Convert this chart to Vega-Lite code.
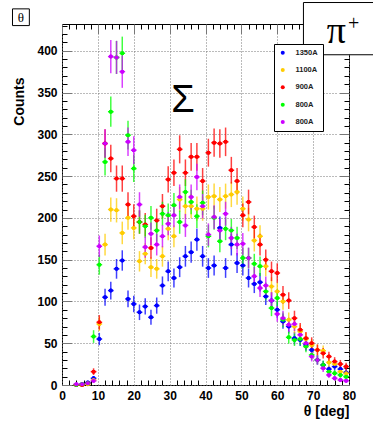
{
"$schema": "https://vega.github.io/schema/vega-lite/v6.json",
"width": 287, "height": 361,
"autosize": {"type": "none"},
"padding": {"left": 62, "top": 24, "right": 24, "bottom": 36},
"background": "white",
"config": {
 "view": {"stroke": "black", "strokeWidth": 1},
 "font": "Liberation Sans",
 "axis": {"domain": false, "tickColor": "black", "tickWidth": 1, "labelFont": "Liberation Sans", "labelFontWeight": "bold", "labelFontSize": 12, "labelColor": "black", "grid": false, "labelOverlap": false, "labelFlush": false, "labelBound": false}
},
"datasets": {"h": [
{"s":"a","x":4,"y":0,"e":0},{"s":"a","x":5.6,"y":1,"e":1},{"s":"a","x":7.2,"y":3,"e":1.7},{"s":"a","x":8.8,"y":8,"e":2.8},{"s":"a","x":10.4,"y":55,"e":7.4},{"s":"a","x":12,"y":105,"e":10.2},{"s":"a","x":13.6,"y":113,"e":10.6},{"s":"a","x":15.2,"y":139,"e":11.8},{"s":"a","x":16.8,"y":149,"e":12.2},{"s":"a","x":18.4,"y":103,"e":10.1},{"s":"a","x":20,"y":97,"e":9.8},{"s":"a","x":21.6,"y":87,"e":9.3},{"s":"a","x":23.2,"y":94,"e":9.7},{"s":"a","x":24.8,"y":81,"e":9},{"s":"a","x":26.4,"y":95,"e":9.7},{"s":"a","x":28,"y":119,"e":10.9},{"s":"a","x":29.6,"y":136,"e":11.7},{"s":"a","x":31.2,"y":128,"e":11.3},{"s":"a","x":32.8,"y":141,"e":11.9},{"s":"a","x":34.4,"y":154,"e":12.4},{"s":"a","x":36,"y":159,"e":12.6},{"s":"a","x":37.6,"y":174,"e":13.2},{"s":"a","x":39.2,"y":154,"e":12.4},{"s":"a","x":40.8,"y":140,"e":11.8},{"s":"a","x":42.4,"y":143,"e":12},{"s":"a","x":44,"y":188,"e":13.7},{"s":"a","x":45.6,"y":140,"e":11.8},{"s":"a","x":47.2,"y":168,"e":13},{"s":"a","x":48.8,"y":146,"e":12.1},{"s":"a","x":50.4,"y":143,"e":12},{"s":"a","x":52,"y":128,"e":11.3},{"s":"a","x":53.6,"y":121,"e":11},{"s":"a","x":55.2,"y":123,"e":11.1},{"s":"a","x":56.8,"y":106,"e":10.3},{"s":"a","x":58.4,"y":101,"e":10},{"s":"a","x":60,"y":90,"e":9.5},{"s":"a","x":61.6,"y":76,"e":8.7},{"s":"a","x":63.2,"y":70,"e":8.4},{"s":"a","x":64.8,"y":56,"e":7.5},{"s":"a","x":66.4,"y":54,"e":7.3},{"s":"a","x":68,"y":48,"e":6.9},{"s":"a","x":69.6,"y":42,"e":6.5},{"s":"a","x":71.2,"y":30,"e":5.5},{"s":"a","x":72.8,"y":24,"e":4.9},{"s":"a","x":74.4,"y":19,"e":4.4},{"s":"a","x":76,"y":22,"e":4.7},{"s":"a","x":77.6,"y":19,"e":4.4},{"s":"a","x":79.2,"y":15,"e":3.9},
{"s":"b","x":4,"y":0,"e":0},{"s":"b","x":5.6,"y":0,"e":0},{"s":"b","x":7.2,"y":1,"e":1},{"s":"b","x":8.8,"y":6,"e":2.4},{"s":"b","x":10.4,"y":73,"e":8.5},{"s":"b","x":12,"y":168,"e":13},{"s":"b","x":13.6,"y":210,"e":14.5},{"s":"b","x":15.2,"y":209,"e":14.5},{"s":"b","x":16.8,"y":182,"e":13.5},{"s":"b","x":18.4,"y":200,"e":14.1},{"s":"b","x":20,"y":188,"e":13.7},{"s":"b","x":21.6,"y":148,"e":12.2},{"s":"b","x":23.2,"y":157,"e":12.5},{"s":"b","x":24.8,"y":141,"e":11.9},{"s":"b","x":26.4,"y":139,"e":11.8},{"s":"b","x":28,"y":154,"e":12.4},{"s":"b","x":29.6,"y":187,"e":13.7},{"s":"b","x":31.2,"y":178,"e":13.3},{"s":"b","x":32.8,"y":222,"e":14.9},{"s":"b","x":34.4,"y":214,"e":14.6},{"s":"b","x":36,"y":214,"e":14.6},{"s":"b","x":37.6,"y":211,"e":14.5},{"s":"b","x":39.2,"y":211,"e":14.5},{"s":"b","x":40.8,"y":225,"e":15},{"s":"b","x":42.4,"y":226,"e":15},{"s":"b","x":44,"y":222,"e":14.9},{"s":"b","x":45.6,"y":226,"e":15},{"s":"b","x":47.2,"y":228,"e":15.1},{"s":"b","x":48.8,"y":231,"e":15.2},{"s":"b","x":50.4,"y":211,"e":14.5},{"s":"b","x":52,"y":198,"e":14.1},{"s":"b","x":53.6,"y":173,"e":13.2},{"s":"b","x":55.2,"y":178,"e":13.3},{"s":"b","x":56.8,"y":142,"e":11.9},{"s":"b","x":58.4,"y":118,"e":10.9},{"s":"b","x":60,"y":112,"e":10.6},{"s":"b","x":61.6,"y":100,"e":10},{"s":"b","x":63.2,"y":78,"e":8.8},{"s":"b","x":64.8,"y":70,"e":8.4},{"s":"b","x":66.4,"y":64,"e":8},{"s":"b","x":68,"y":55,"e":7.4},{"s":"b","x":69.6,"y":48,"e":6.9},{"s":"b","x":71.2,"y":42,"e":6.5},{"s":"b","x":72.8,"y":41,"e":6.4},{"s":"b","x":74.4,"y":27,"e":5.2},{"s":"b","x":76,"y":25,"e":5},{"s":"b","x":77.6,"y":16,"e":4},{"s":"b","x":79.2,"y":14,"e":3.7},
{"s":"c","x":4,"y":0,"e":0},{"s":"c","x":5.6,"y":0,"e":0},{"s":"c","x":7.2,"y":2,"e":1.4},{"s":"c","x":8.8,"y":16,"e":4},{"s":"c","x":10.4,"y":75,"e":8.7},{"s":"c","x":12,"y":289,"e":17},{"s":"c","x":13.6,"y":271,"e":16.5},{"s":"c","x":15.2,"y":247,"e":15.7},{"s":"c","x":16.8,"y":247,"e":15.7},{"s":"c","x":18.4,"y":216,"e":14.7},{"s":"c","x":20,"y":202,"e":14.2},{"s":"c","x":21.6,"y":195,"e":14},{"s":"c","x":23.2,"y":192,"e":13.9},{"s":"c","x":24.8,"y":164,"e":12.8},{"s":"c","x":26.4,"y":197,"e":14},{"s":"c","x":28,"y":214,"e":14.6},{"s":"c","x":29.6,"y":246,"e":15.7},{"s":"c","x":31.2,"y":254,"e":15.9},{"s":"c","x":32.8,"y":282,"e":16.8},{"s":"c","x":34.4,"y":254,"e":15.9},{"s":"c","x":36,"y":273,"e":16.5},{"s":"c","x":37.6,"y":273,"e":16.5},{"s":"c","x":39.2,"y":244,"e":15.6},{"s":"c","x":40.8,"y":278,"e":16.7},{"s":"c","x":42.4,"y":290,"e":17},{"s":"c","x":44,"y":289,"e":17},{"s":"c","x":45.6,"y":291,"e":17.1},{"s":"c","x":47.2,"y":257,"e":16},{"s":"c","x":48.8,"y":244,"e":15.6},{"s":"c","x":50.4,"y":203,"e":14.2},{"s":"c","x":52,"y":219,"e":14.8},{"s":"c","x":53.6,"y":189,"e":13.7},{"s":"c","x":55.2,"y":168,"e":13},{"s":"c","x":56.8,"y":150,"e":12.2},{"s":"c","x":58.4,"y":136,"e":11.7},{"s":"c","x":60,"y":134,"e":11.6},{"s":"c","x":61.6,"y":108,"e":10.4},{"s":"c","x":63.2,"y":101,"e":10},{"s":"c","x":64.8,"y":80,"e":8.9},{"s":"c","x":66.4,"y":66,"e":8.1},{"s":"c","x":68,"y":56,"e":7.5},{"s":"c","x":69.6,"y":50,"e":7.1},{"s":"c","x":71.2,"y":42,"e":6.5},{"s":"c","x":72.8,"y":38,"e":6.2},{"s":"c","x":74.4,"y":34,"e":5.8},{"s":"c","x":76,"y":28,"e":5.3},{"s":"c","x":77.6,"y":25,"e":5},{"s":"c","x":79.2,"y":22,"e":4.7},
{"s":"d","x":4,"y":0,"e":0},{"s":"d","x":5.6,"y":1,"e":1},{"s":"d","x":7.2,"y":2,"e":1.4},{"s":"d","x":8.8,"y":58,"e":7.6},{"s":"d","x":10.4,"y":144,"e":12},{"s":"d","x":12,"y":267,"e":16.3},{"s":"d","x":13.6,"y":327,"e":18.1},{"s":"d","x":15.2,"y":392,"e":19.8},{"s":"d","x":16.8,"y":397,"e":19.9},{"s":"d","x":18.4,"y":299,"e":17.3},{"s":"d","x":20,"y":259,"e":16.1},{"s":"d","x":21.6,"y":195,"e":14},{"s":"d","x":23.2,"y":190,"e":13.8},{"s":"d","x":24.8,"y":200,"e":14.1},{"s":"d","x":26.4,"y":185,"e":13.6},{"s":"d","x":28,"y":205,"e":14.3},{"s":"d","x":29.6,"y":203,"e":14.2},{"s":"d","x":31.2,"y":215,"e":14.7},{"s":"d","x":32.8,"y":195,"e":14},{"s":"d","x":34.4,"y":231,"e":15.2},{"s":"d","x":36,"y":219,"e":14.8},{"s":"d","x":37.6,"y":202,"e":14.2},{"s":"d","x":39.2,"y":218,"e":14.8},{"s":"d","x":40.8,"y":178,"e":13.3},{"s":"d","x":42.4,"y":200,"e":14.1},{"s":"d","x":44,"y":172,"e":13.1},{"s":"d","x":45.6,"y":187,"e":13.7},{"s":"d","x":47.2,"y":185,"e":13.6},{"s":"d","x":48.8,"y":176,"e":13.3},{"s":"d","x":50.4,"y":152,"e":12.3},{"s":"d","x":52,"y":152,"e":12.3},{"s":"d","x":53.6,"y":145,"e":12},{"s":"d","x":55.2,"y":142,"e":11.9},{"s":"d","x":56.8,"y":112,"e":10.6},{"s":"d","x":58.4,"y":92,"e":9.6},{"s":"d","x":60,"y":104,"e":10.2},{"s":"d","x":61.6,"y":78,"e":8.8},{"s":"d","x":63.2,"y":57,"e":7.5},{"s":"d","x":64.8,"y":54,"e":7.3},{"s":"d","x":66.4,"y":55,"e":7.4},{"s":"d","x":68,"y":46,"e":6.8},{"s":"d","x":69.6,"y":36,"e":6},{"s":"d","x":71.2,"y":30,"e":5.5},{"s":"d","x":72.8,"y":24,"e":4.9},{"s":"d","x":74.4,"y":16,"e":4},{"s":"d","x":76,"y":14,"e":3.7},{"s":"d","x":77.6,"y":12,"e":3.5},{"s":"d","x":79.2,"y":10,"e":3.2},
{"s":"e","x":4,"y":1,"e":1},{"s":"e","x":5.6,"y":1,"e":1},{"s":"e","x":7.2,"y":2,"e":1.4},{"s":"e","x":8.8,"y":5,"e":2.2},{"s":"e","x":10.4,"y":166,"e":12.9},{"s":"e","x":12,"y":289,"e":17},{"s":"e","x":13.6,"y":393,"e":19.8},{"s":"e","x":15.2,"y":392,"e":19.8},{"s":"e","x":16.8,"y":375,"e":19.4},{"s":"e","x":18.4,"y":291,"e":17.1},{"s":"e","x":20,"y":281,"e":16.8},{"s":"e","x":21.6,"y":216,"e":14.7},{"s":"e","x":23.2,"y":165,"e":12.8},{"s":"e","x":24.8,"y":181,"e":13.5},{"s":"e","x":26.4,"y":168,"e":13},{"s":"e","x":28,"y":178,"e":13.3},{"s":"e","x":29.6,"y":193,"e":13.9},{"s":"e","x":31.2,"y":203,"e":14.2},{"s":"e","x":32.8,"y":225,"e":15},{"s":"e","x":34.4,"y":191,"e":13.8},{"s":"e","x":36,"y":225,"e":15},{"s":"e","x":37.6,"y":249,"e":15.8},{"s":"e","x":39.2,"y":214,"e":14.6},{"s":"e","x":40.8,"y":180,"e":13.4},{"s":"e","x":42.4,"y":201,"e":14.2},{"s":"e","x":44,"y":185,"e":13.6},{"s":"e","x":45.6,"y":205,"e":14.3},{"s":"e","x":47.2,"y":176,"e":13.3},{"s":"e","x":48.8,"y":168,"e":13},{"s":"e","x":50.4,"y":169,"e":13},{"s":"e","x":52,"y":152,"e":12.3},{"s":"e","x":53.6,"y":130,"e":11.4},{"s":"e","x":55.2,"y":116,"e":10.8},{"s":"e","x":56.8,"y":119,"e":10.9},{"s":"e","x":58.4,"y":101,"e":10},{"s":"e","x":60,"y":85,"e":9.2},{"s":"e","x":61.6,"y":80,"e":8.9},{"s":"e","x":63.2,"y":72,"e":8.5},{"s":"e","x":64.8,"y":73,"e":8.5},{"s":"e","x":66.4,"y":60,"e":7.7},{"s":"e","x":68,"y":50,"e":7.1},{"s":"e","x":69.6,"y":34,"e":5.8},{"s":"e","x":71.2,"y":30,"e":5.5},{"s":"e","x":72.8,"y":20,"e":4.5},{"s":"e","x":74.4,"y":12,"e":3.5},{"s":"e","x":76,"y":8,"e":2.8},{"s":"e","x":77.6,"y":6,"e":2.4},{"s":"e","x":79.2,"y":5,"e":2.2}
], "one": [{"k": 1}]},
"resolve": {"scale": {"x": "independent", "y": "independent"}, "axis": {"x": "independent", "y": "independent"}},
"layer": [
 {
  "data": {"name": "h"},
  "mark": {"type": "point", "filled": true, "shape": "circle", "size": 16, "opacity": 1},
  "encoding": {
   "x": {"field": "x", "type": "quantitative", "scale": {"domain": [0, 80], "nice": false, "zero": false},
    "axis": {"orient": "bottom", "values": [0,2,4,6,8,10,12,14,16,18,20,22,24,26,28,30,32,34,36,38,40,42,44,46,48,50,52,54,56,58,60,62,64,66,68,70,72,74,76,78,80],
     "ticks": false, "labels": true, "labelExpr": "datum.value % 10 === 0 ? datum.label : ''", "labelPadding": 5,
     "grid": true, "gridWidth": 1,
     "gridColor": {"condition": {"test": "datum.value % 10 === 0", "value": "#777777"}, "value": "black"},
     "gridDash": {"condition": {"test": "datum.value % 10 === 0", "value": [10,2,1,2,1,2,1,2,1,2,1,2,1,2,1,2,1,2,1,2,1,2,1,2,1,2,1,2,1,2,1,2,1,2,1,2,1,2,1,2,1,2,1,2,1,2,1,2,1,2,1,2,1,2,1,2,1,2,1,2,1,2,1,2,1,2,1,2,1,2,1,2,1,2,1,2,1,2,1,2,1,2,1,2,1,2,1,2,1,2,1,2,1,2,1,2,1,2,1,2,1,2,1,2,1,2,1,2,1,2,1,2,1,2,1,2,1,2,1,2,1,2,1,2,1,2,1,2,1,2,1,2,1,2,1,2,1,2,1,2,1,2,1,2,1,2,1,2,1,2,1,2,1,2,1,2,1,2,1,2,1,2,1,2,1,2,1,2,1,2,1,2,1,2,1,2,1,2,1,2,1,2,1,2,1,2,1,2,1,2,1,2,1,2,1,2,1,2,1,2,1,2,1,2,1,2,1,2,1,2,1,2,1,2,1,2,1,2,1,2,1,2,1,2,1,2,1,2,1,2,1,2,1,2,10]}, "value": [5, 351]},
     "title": "θ [deg]", "titleFont": "Liberation Sans", "titleFontSize": 14, "titleFontWeight": "bold", "titleColor": "black", "titleAnchor": "end", "titleAlign": "right", "titleBaseline": "alphabetic", "titleX": 287, "titleY": 30}},
   "y": {"field": "y", "type": "quantitative", "scale": {"domain": [0, 432], "nice": false, "zero": false},
    "axis": {"orient": "left", "values": [0,10,20,30,40,50,60,70,80,90,100,110,120,130,140,150,160,170,180,190,200,210,220,230,240,250,260,270,280,290,300,310,320,330,340,350,360,370,380,390,400,410,420,430],
     "ticks": false, "labels": true, "labelExpr": "datum.value % 50 === 0 ? datum.label : ''", "labelPadding": 5,
     "grid": true, "gridWidth": 1,
     "gridColor": {"condition": {"test": "datum.value % 50 === 0", "value": "#777777"}, "value": "black"},
     "gridDash": {"condition": {"test": "datum.value % 50 === 0", "value": [10,2,1,2,1,2,1,2,1,2,1,2,1,2,1,2,1,2,1,2,1,2,1,2,1,2,1,2,1,2,1,2,1,2,1,2,1,2,1,2,1,2,1,2,1,2,1,2,1,2,1,2,1,2,1,2,1,2,1,2,1,2,1,2,1,2,1,2,1,2,1,2,1,2,1,2,1,2,1,2,1,2,1,2,1,2,1,2,1,2,1,2,1,2,1,2,1,2,1,2,1,2,1,2,1,2,1,2,1,2,1,2,1,2,1,2,1,2,1,2,1,2,1,2,1,2,1,2,1,2,1,2,1,2,1,2,1,2,1,2,1,2,1,2,1,2,1,2,1,2,1,2,1,2,1,2,1,2,1,2,1,2,1,2,1,2,1,2,1,2,1,2,1,2,1,2,1,3,10]}, "value": [5, 277]},
     "title": "Counts", "titleFont": "Liberation Sans", "titleFontSize": 14, "titleFontWeight": "bold", "titleColor": "black", "titleAngle": -90, "titleAlign": "right", "titleBaseline": "middle", "titleX": -43, "titleY": 53}},
   "color": {"field": "s", "type": "nominal", "scale": {"domain": ["a","b","c","d","e"], "range": ["#0000ff","#ffcc00","#ff0000","#00ff00","#cc00ff"]},
    "legend": {"orient": "none", "legendX": 212, "legendY": 20, "title": null, "padding": 5, "fillColor": "white", "strokeColor": "black", "cornerRadius": 0,
     "symbolType": "circle", "symbolSize": 16, "symbolStrokeWidth": 0, "labelFont": "Liberation Sans", "labelFontWeight": "bold", "labelFontSize": 7.5, "labelColor": "#222222", "rowPadding": 8.3, "labelOffset": 9,
     "labelExpr": "(datum.value == 'a' ? '1350A' : datum.value == 'b' ? '1100A' : datum.value == 'c' ? '900A' : '800A') + '\u00a0\u00a0\u00a0\u00a0\u00a0\u00a0\u00a0\u00a0\u00a0\u00a0\u00a0\u00a0\u00a0\u00a0'"}}
  }
 },
 {
  "data": {"name": "h"},
  "mark": {"type": "errorbar", "ticks": false, "thickness": 1.5, "opacity": 0.75},
  "encoding": {
   "x": {"field": "x", "type": "quantitative", "scale": {"domain": [0, 80], "nice": false, "zero": false}, "axis": null},
   "y": {"field": "y", "type": "quantitative", "scale": {"domain": [0, 432], "nice": false, "zero": false}, "axis": null},
   "yError": {"field": "e"},
   "color": {"field": "s", "type": "nominal", "scale": {"domain": ["a","b","c","d","e"], "range": ["#0000ff","#ffcc00","#ff0000","#00ff00","#cc00ff"]}}
  }
 },
 {
  "data": {"name": "h"},
  "mark": {"type": "tick", "orient": "horizontal", "size": 5.7, "thickness": 1.5, "opacity": 0.9},
  "encoding": {
   "x": {"field": "x", "type": "quantitative", "scale": {"domain": [0, 80], "nice": false, "zero": false}, "axis": null},
   "y": {"field": "y", "type": "quantitative", "scale": {"domain": [0, 432], "nice": false, "zero": false}, "axis": null},
   "color": {"field": "s", "type": "nominal", "scale": {"domain": ["a","b","c","d","e"], "range": ["#0000ff","#ffcc00","#ff0000","#00ff00","#cc00ff"]}}
  }
 },
 {
  "data": {"name": "h"},
  "mark": {"type": "point", "filled": true, "shape": "circle", "size": 16, "opacity": 1},
  "encoding": {
   "x": {"field": "x", "type": "quantitative", "scale": {"domain": [0, 80], "nice": false, "zero": false}, "axis": null},
   "y": {"field": "y", "type": "quantitative", "scale": {"domain": [0, 432], "nice": false, "zero": false}, "axis": null},
   "color": {"field": "s", "type": "nominal", "scale": {"domain": ["a","b","c","d","e"], "range": ["#0000ff","#ffcc00","#ff0000","#00ff00","#cc00ff"]}}
  }
 },
 {
  "data": {"name": "one"},
  "mark": {"type": "text", "text": "Σ", "font": "Liberation Sans", "fontSize": 38, "align": "center", "baseline": "middle", "color": "black"},
  "encoding": {
   "x": {"datum": 33.7, "type": "quantitative", "scale": {"domain": [0, 80], "nice": false, "zero": false}, "axis": null},
   "y": {"datum": 340, "type": "quantitative", "scale": {"domain": [0, 432], "nice": false, "zero": false}, "axis": null}
  }
 },
 {
  "data": {"name": "one"},
  "mark": {"type": "rect", "fill": "white", "stroke": "black", "strokeWidth": 1},
  "encoding": {
   "x": {"datum": 67.3, "type": "quantitative", "scale": {"domain": [0, 80], "nice": false, "zero": false}, "axis": null},
   "x2": {"datum": 95},
   "y": {"datum": 457.7, "type": "quantitative", "scale": {"domain": [0, 432], "nice": false, "zero": false}, "axis": null},
   "y2": {"datum": 395.2}
  }
 },
 {
  "data": {"name": "one"},
  "mark": {"type": "text", "text": "π", "font": "Liberation Serif", "fontSize": 38, "align": "center", "baseline": "alphabetic", "color": "black"},
  "encoding": {
   "x": {"datum": 76.5, "type": "quantitative", "scale": {"domain": [0, 80], "nice": false, "zero": false}, "axis": null},
   "y": {"datum": 409.7, "type": "quantitative", "scale": {"domain": [0, 432], "nice": false, "zero": false}, "axis": null}
  }
 },
 {
  "data": {"name": "one"},
  "mark": {"type": "text", "text": "+", "font": "Liberation Serif", "fontSize": 20, "align": "center", "baseline": "middle", "color": "black"},
  "encoding": {
   "x": {"datum": 81.3, "type": "quantitative", "scale": {"domain": [0, 80], "nice": false, "zero": false}, "axis": null},
   "y": {"datum": 431.5, "type": "quantitative", "scale": {"domain": [0, 432], "nice": false, "zero": false}, "axis": null}
  }
 },
 {
  "data": {"name": "one"},
  "mark": {"type": "rect", "fill": "white", "stroke": "black", "strokeWidth": 1},
  "encoding": {
   "x": {"datum": -13.8, "type": "quantitative", "scale": {"domain": [0, 80], "nice": false, "zero": false}, "axis": null},
   "x2": {"datum": -9.1},
   "y": {"datum": 450.1, "type": "quantitative", "scale": {"domain": [0, 432], "nice": false, "zero": false}, "axis": null},
   "y2": {"datum": 430.1}
  }
 },
 {
  "data": {"name": "one"},
  "mark": {"type": "text", "text": "θ", "font": "Liberation Serif", "fontSize": 13, "align": "center", "baseline": "middle", "color": "black"},
  "encoding": {
   "x": {"datum": -11.45, "type": "quantitative", "scale": {"domain": [0, 80], "nice": false, "zero": false}, "axis": null},
   "y": {"datum": 439.6, "type": "quantitative", "scale": {"domain": [0, 432], "nice": false, "zero": false}, "axis": null}
  }
 }
]
}
